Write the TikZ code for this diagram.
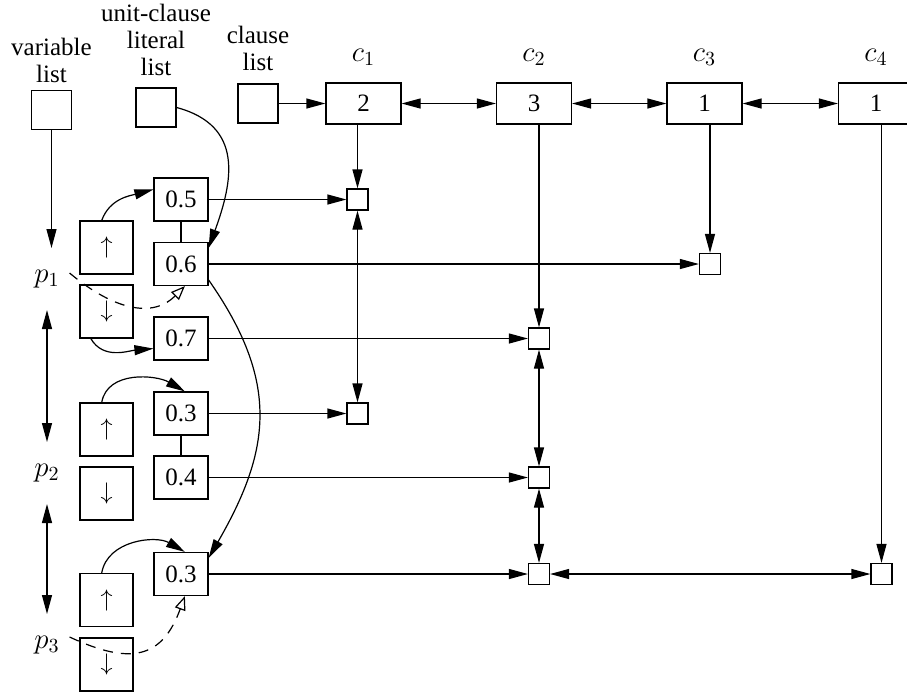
\documentclass[tikz,border=0pt]{standalone}
\usepackage{fontspec}
\setmainfont{Liberation Serif}
\usetikzlibrary{arrows.meta,positioning}

\begin{document}
\begin{tikzpicture}[
  x=0.5pt, y=-0.5pt, line width=0.6pt,
  font=\fontsize{12.5}{13.5}\selectfont,
  hb/.style={draw, minimum width=20pt, minimum height=19.5pt, inner sep=0pt},
  cb/.style={draw, minimum width=37.5pt, minimum height=20.5pt, inner sep=0pt},
  vb/.style={draw, minimum width=27pt, minimum height=21.5pt, inner sep=0pt},
  ab/.style={draw, minimum size=26.5pt, inner sep=0pt},
  sq/.style={draw, minimum size=10.5pt, inner sep=0pt},
  lb/.style={align=center, inner sep=1pt},
  cl/.style={inner sep=1pt, font=\fontsize{14}{16}\selectfont},
  pv/.style={inner sep=1pt, outer xsep=4pt, outer ysep=10pt, font=\fontsize{14}{16}\selectfont},
  pf/.style={-{Triangle[length=9.5pt,width=5pt]}},
  pp/.style={{Triangle[length=9.5pt,width=5pt]}-{Triangle[length=9.5pt,width=5pt]}},
  dsh/.style={dash pattern=on 5pt off 4pt, -{Triangle[open,length=7pt,width=5.5pt]}}
]
\useasboundingbox (0,0) rectangle (907,692);
\clip (0,0) rectangle (907,692);

% list heads
\node[hb] (var) at (51.5,110) {};
\node[hb] (unit) at (156,107.5) {};
\node[hb] (clist) at (258,103.5) {};
\node[lb, above=2.5pt of var] (varlb) {variable\\list};
\node[lb, above=4.5pt of unit] (unitlb) {unit-clause\\literal\\list};
\node[lb, above=5pt of clist] (clistlb) {clause\\list};

% clauses
\node[cb] (cb1) at (363.5,103.5) {2};
\node[cb] (cb2) at (534,103.5) {3};
\node[cb] (cb3) at (704.5,103.5) {1};
\node[cb] (cb4) at (876,103.5) {1};
\node[cl, above=7pt of cb1] (c1) {$c_1$};
\node[cl, above=7pt of cb2] (c2) {$c_2$};
\node[cl, above=7pt of cb3] (c3) {$c_3$};
\node[cl, above=7pt of cb4] (c4) {$c_4$};

% variables
\node[pv] (p1) at (47,279) {$p_1$};
\node[pv] (p2) at (47,473) {$p_2$};
\node[pv] (p3) at (47,645) {$p_3$};
\node[ab] (up1) at (106.5,247.5) {$\uparrow$};
\node[ab] (dn1) at (106.5,311.5) {$\downarrow$};
\node[ab] (up2) at (106.5,429.5) {$\uparrow$};
\node[ab] (dn2) at (106.5,493.5) {$\downarrow$};
\node[ab] (up3) at (106.5,600) {$\uparrow$};
\node[ab] (dn3) at (106.5,664.5) {$\downarrow$};

% literal occurrences
\node[vb] (v1) at (181,199.5) {0.5};
\node[vb] (v2) at (181,264) {0.6};
\node[vb] (v3) at (181,338.5) {0.7};
\node[vb] (v4) at (181,413.5) {0.3};
\node[vb] (v5) at (181,477.5) {0.4};
\node[vb] (v6) at (181,574) {0.3};

\node[sq] (s1) at (357.5,199.5) {};
\node[sq] (s2) at (710,264) {};
\node[sq] (s3) at (539,338.5) {};
\node[sq] (s4) at (357.5,413.5) {};
\node[sq] (s5) at (539,477.5) {};
\node[sq] (s6) at (539,574) {};
\node[sq] (s7) at (881.5,574) {};

\draw[pf] (clist) -- (cb1);
\draw[pp] (cb1) -- (cb2);
\draw[pp] (cb2) -- (cb3);
\draw[pp] (cb3) -- (cb4);
\draw[pf] (cb1.south -| s1) -- (s1);
\draw[pf] (cb2.south -| s3) -- (s3);
\draw[pf] (cb3.south -| s2) -- (s2);
\draw[pf] (cb4.south -| s7) -- (s7);
\draw[pp] (s1) -- (s4);
\draw[pp] (s3) -- (s5);
\draw[pp] (s5) -- (s6);
\draw[pp] (s6) -- (s7);

\draw[pf] (var.south) -- (var.south |- p1.north);
\draw[pp] (p1) -- (p2);
\draw[pp] (p2) -- (p3);

\draw (v1) -- (v2);
\draw (v4) -- (v5);
\draw[pf] (v1) -- (s1);
\draw[pf] (v2) -- (s2);
\draw[pf] (v3) -- (s3);
\draw[pf] (v4) -- (s4);
\draw[pf] (v5) -- (s5);
\draw[pf] (v6) -- (s6);

\draw[pf] (up1.100) to[out=70,in=195] (v1.160);
\draw[pf] (dn1.-120) to[out=-60,in=185] (v3.200);
\draw[pf] (up2.100) to[out=80,in=150] (v4.80);
\draw[pf] (up3.100) to[out=80,in=150] (v6.80);
\draw[pf] (unit.east) to[out=-15,in=70,looseness=1.25] (v2.30);
\draw[pf] (v2.-30) to[out=-55,in=60,looseness=1.15] (v6.30);
\draw[dsh] ([yshift=3pt]p1.east) to[out=-40,in=-135,looseness=1.1] (v2.-80);
\draw[dsh] ([yshift=4pt]p3.east) to[out=-25,in=-110,looseness=1.4] (v6.-80);
\end{tikzpicture}
\end{document}
